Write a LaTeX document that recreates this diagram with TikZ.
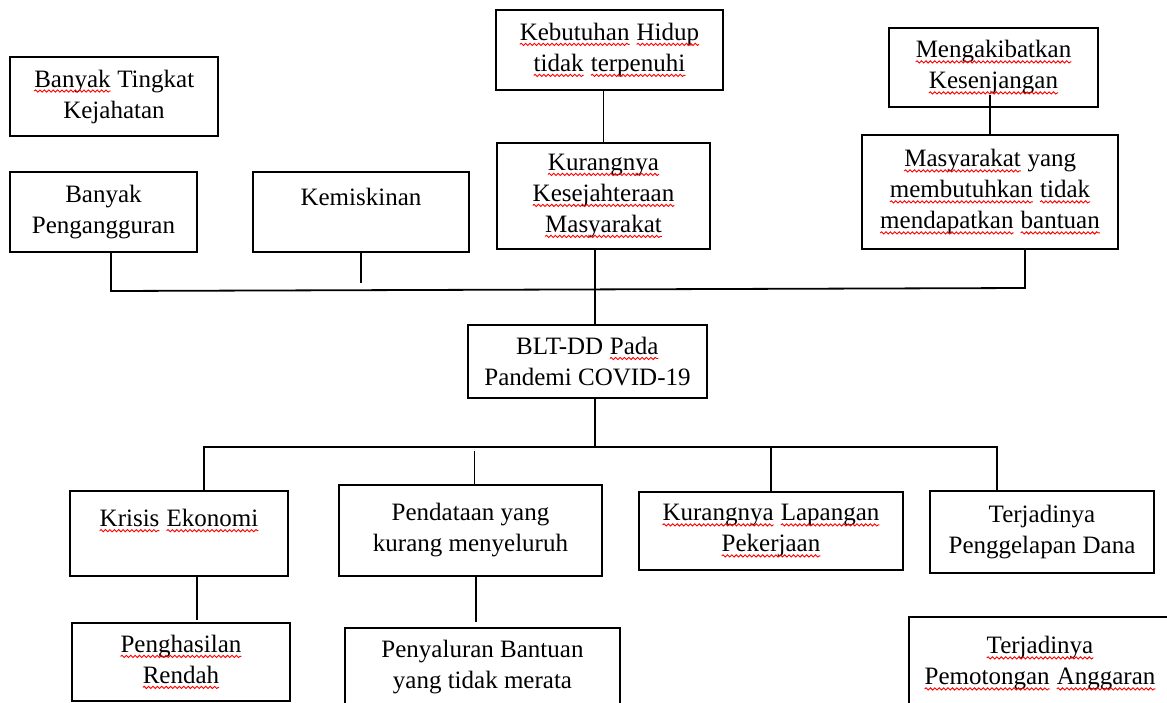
\documentclass[tikz,border=0pt]{standalone}
\usepackage{fontspec}
\setmainfont{Liberation Serif}
\usetikzlibrary{decorations.pathmorphing}
\newcommand{\spl}[1]{\tikz[baseline=(w.base),x=1pt,y=1pt]{%
  \node[draw=none,inner sep=0pt,outer sep=0pt,minimum width=0pt,minimum height=0pt] (w) {#1};
  \draw[red,line width=0.45pt,decorate,decoration={snake,amplitude=0.55pt,segment length=2.2pt}]
    ([yshift=-2pt]w.base west) -- ([yshift=-2pt]w.base east);}}

\begin{document}
\begin{tikzpicture}[x=0.5pt,y=-0.5pt,line width=0.9pt]
\useasboundingbox (0,0) rectangle (1167,702);
\fill[white] (0,0) rectangle (1167,702);
\clip (0,0) rectangle (1167,702);

\begin{scope}[every node/.style={draw,rectangle,align=center,inner sep=2pt,
              font=\fontsize{12.5}{15.5}\selectfont}]
\node[minimum width=104pt,minimum height=39.5pt] (crime) at (114,96.5) {\spl{Banyak} Tingkat\\Kejahatan};
\node[minimum width=113.5pt,minimum height=40pt] (needs) at (609.5,50) {\spl{Kebutuhan} \spl{Hidup}\\\spl{tidak} \spl{terpenuhi}};
\node[minimum width=104.5pt,minimum height=39.5pt] (gap) at (993.5,67.5) {\spl{Mengakibatkan}\\\spl{Kesenjangan}};
\node[minimum width=93.5pt,minimum height=40pt] (unemp) at (103.5,212) {Banyak\\Pengangguran};
\node[minimum width=108pt,minimum height=40pt] (poverty) at (361,212) {Kemiskinan\\~};
\node[minimum width=106.5pt,minimum height=53pt] (welfare) at (603.5,196) {\spl{Kurangnya}\\\spl{Kesejahteraan}\\\spl{Masyarakat}};
\node[minimum width=128pt,minimum height=57pt] (unaided) at (990,192) {\spl{Masyarakat} yang\\\spl{membutuhkan} \spl{tidak}\\\spl{mendapatkan} \spl{bantuan}};
\node[minimum width=119.5pt,minimum height=36.5pt] (blt) at (587.5,361.5) {BLT-DD \spl{Pada}\\Pandemi COVID-19};
\node[minimum width=109pt,minimum height=42.5pt] (crisis) at (179,533.5) {\spl{Krisis} \spl{Ekonomi}\\~};
\node[minimum width=131.5pt,minimum height=45.5pt] (census) at (470.5,530.5) {Pendataan yang\\kurang menyeluruh};
\node[minimum width=132pt,minimum height=39pt] (jobs) at (771,531) {\spl{Kurangnya} \spl{Lapangan}\\\spl{Pekerjaan}};
\node[minimum width=112pt,minimum height=41pt] (embezzle) at (1042,532) {Terjadinya\\Penggelapan Dana};
\node[minimum width=109pt,minimum height=39pt] (income) at (181,662) {\spl{Penghasilan}\\\spl{Rendah}};
\node[minimum width=137.5pt,minimum height=39pt] (distrib) at (482.5,667) {Penyaluran Bantuan\\yang tidak merata};
\node[minimum width=131pt,minimum height=46.5pt] (budget) at (1040,663.5) {\spl{Terjadinya}\\\spl{Pemotongan} \spl{Anggaran}};
\end{scope}

\coordinate (busL) at (111,291);
\coordinate (busR) at (1025,288);
\coordinate (trunk) at (595,300);
\coordinate (lbusL) at (204,447);
\coordinate (lbusR) at (997,447);

% upper part
\draw (welfare.north) -- (welfare.north |- needs.south);
\draw ([yshift=6pt]unaided.north |- gap.south) -- (unaided.north);
\draw (unemp.south -| busL) -- (busL) -- (busR) -- (unaided.south -| busR);
\draw (poverty.south) -- ([yshift=4pt]poverty.south |- busL);
\draw (welfare.south -| trunk) -- (blt.north -| trunk);

% lower part
\draw (blt.south -| trunk) -- (trunk |- lbusL);
\draw (crisis.north -| lbusL) -- (lbusL) -- (lbusR) -- (embezzle.north -| lbusR);
\draw ([xshift=2pt]census.north) -- ([xshift=2pt,yshift=-2pt]census.north |- lbusL);
\draw (jobs.north) -- (jobs.north |- lbusL);
\draw ([xshift=9pt]crisis.south) -- ([xshift=8pt,yshift=1.5pt]income.north);
\draw ([xshift=2.75pt]census.south) -- ([xshift=-3.25pt,yshift=2.5pt]distrib.north);
\end{tikzpicture}
\end{document}
